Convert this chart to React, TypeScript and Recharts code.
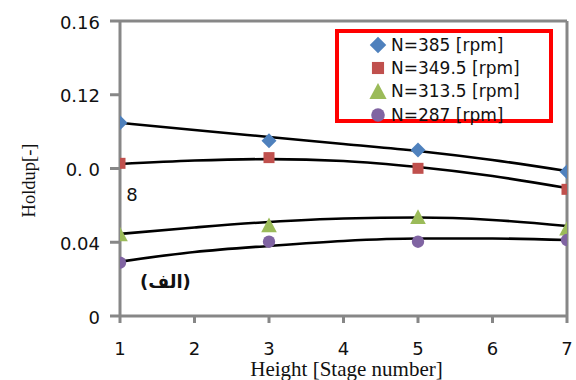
import React from 'react';
import { ComposedChart, Line, XAxis, YAxis, Legend, ReferenceLine } from 'recharts';

const stages = [1, 3, 5, 7];
const holdup385 = [0.1048, 0.0951, 0.09, 0.0783];
const holdup3495 = [0.0828, 0.0859, 0.0801, 0.0687];
const holdup3135 = [0.0445, 0.0494, 0.0539, 0.0476];
const holdup287 = [0.0289, 0.0403, 0.0403, 0.0412];

// trend lines at every stage
const trendStages = [1, 2, 3, 4, 5, 6, 7];
const trend385 = [0.1048, 0.1009, 0.0971, 0.0933, 0.0895, 0.0846, 0.0786];
const trend3495 = [0.0824, 0.0843, 0.0851, 0.0841, 0.0808, 0.0759, 0.0694];
const trend3135 = [0.0445, 0.048, 0.051, 0.0529, 0.0534, 0.0521, 0.0488];
const trend287 = [0.0295, 0.0347, 0.038, 0.0407, 0.042, 0.042, 0.0412];

const xTicks = [1, 2, 3, 4, 5, 6, 7];
const yTicks = [0, 0.04, 0.08, 0.12, 0.16];

const series = [
  { name: 'N=385 [rpm]', values: holdup385, trend: trend385, color: '#4F81BD', marker: 'diamond' },
  { name: 'N=349.5 [rpm]', values: holdup3495, trend: trend3495, color: '#C0504D', marker: 'square' },
  { name: 'N=313.5 [rpm]', values: holdup3135, trend: trend3135, color: '#9BBB59', marker: 'triangle' },
  { name: 'N=287 [rpm]', values: holdup287, trend: trend287, color: '#8064A2', marker: 'circle' },
];

// one row per stage: measured points only where a stage was measured
const chartData = trendStages.map((x, i) => {
  const row: any = { x };
  series.forEach((s, k) => {
    row['t' + k] = s.trend[i];
    const j = stages.indexOf(x);
    if (j >= 0) row['m' + k] = s.values[j];
  });
  return row;
});

const AXIS = '#878787';
const SANS = '"DejaVu Sans", sans-serif';
const SERIF = '"Liberation Serif", "Times New Roman", serif';

const Marker = ({ kind, cx, cy, fill, scale = 1 }: any) => {
  if (cx == null || cy == null || Number.isNaN(cy)) return null;
  if (kind === 'diamond') {
    const h = 7.5 * scale;
    return <polygon points={`${cx},${cy - h} ${cx + h},${cy} ${cx},${cy + h} ${cx - h},${cy}`} fill={fill} />;
  }
  if (kind === 'square') {
    const h = 5.5 * scale;
    return <rect x={cx - h} y={cy - h} width={2 * h} height={2 * h} fill={fill} />;
  }
  if (kind === 'triangle') {
    const w = 7.8 * scale;
    const h = 7.3 * scale;
    return <polygon points={`${cx},${cy - h} ${cx + w},${cy + h} ${cx - w},${cy + h}`} fill={fill} />;
  }
  return <circle cx={cx} cy={cy} r={6.2 * scale} fill={fill} />;
};

const YTick = ({ x, y, payload }: any) => {
  const v = payload.value;
  const style = { fontFamily: SANS, fontSize: 18, fill: '#111' };
  if (Math.abs(v - 0.08) < 1e-9) {
    return (
      <g>
        <text x={x} y={y} dy="0.42em" textAnchor="end" style={style}>0. 0</text>
        <text x={x + 32} y={y + 26} dy="0.36em" textAnchor="middle" style={style}>8</text>
      </g>
    );
  }
  return (
    <text x={x} y={y} dy="0.42em" textAnchor="end" style={style}>
      {v === 0 ? '0' : v.toFixed(2)}
    </text>
  );
};

const LegendBox = ({ payload }: any) => {
  const names = (payload || []).filter((p: any) => p.type !== 'none').map((p: any) => p.value);
  const shown = series.filter((s) => names.includes(s.name));
  return (
    <div
      style={{
        boxSizing: 'border-box',
        width: 218,
        height: 94,
        border: '4px solid #ff0000',
        paddingLeft: 30,
        fontFamily: SANS,
        fontSize: 17,
        color: '#111',
      }}
    >
      {shown.map((s) => (
        <div key={s.name} style={{ height: 23.3, display: 'flex', alignItems: 'center', whiteSpace: 'nowrap' }}>
          <svg width={18} height={18} style={{ marginRight: 4, flex: 'none' }}>
            <Marker kind={s.marker} cx={9} cy={9} fill={s.color} scale={1.1} />
          </svg>
          <span>{s.name}</span>
        </div>
      ))}
    </div>
  );
};

export default function App() {
  return (
    <div style={{ position: 'absolute', left: 0, top: 0, width: 576, height: 380, background: '#fff' }}>
      <ComposedChart width={576} height={380} data={chartData} margin={{ top: 21, right: 9, left: 0, bottom: 0 }}>
        <XAxis
          dataKey="x"
          type="number"
          domain={[1, 7]}
          ticks={xTicks}
          allowDataOverflow
          height={64}
          axisLine={{ stroke: AXIS, strokeWidth: 3 }}
          tickLine={{ stroke: AXIS, strokeWidth: 3 }}
          tickSize={7}
          tickMargin={19}
          tick={{ fontFamily: SANS, fontSize: 18, fill: '#111' }}
          label={{
            value: 'Height [Stage number]',
            position: 'center',
            dx: 3,
            dy: 21,
            style: { fontFamily: SERIF, fontSize: 21, fill: '#111' },
          }}
        />
        <YAxis
          type="number"
          domain={[0, 0.16]}
          ticks={yTicks}
          allowDataOverflow
          width={120}
          axisLine={{ stroke: AXIS, strokeWidth: 3 }}
          tickLine={{ stroke: AXIS, strokeWidth: 3 }}
          tickSize={10}
          tickMargin={10}
          tick={<YTick />}
          label={{
            value: 'Holdup[-]',
            position: 'center',
            angle: -90,
            dx: -32,
            dy: 12,
            style: { fontFamily: SERIF, fontSize: 18.5, fill: '#111' },
          }}
        />
        <ReferenceLine y={0.16} stroke={AXIS} strokeWidth={3} />
        <ReferenceLine x={7} stroke={AXIS} strokeWidth={3} />
        {series.map((s, k) => (
          <Line
            key={'m' + k}
            name={s.name}
            dataKey={'m' + k}
            stroke="none"
            fill={s.color}
            connectNulls={false}
            dot={(props: any) => (
              <Marker key={'d' + k + '-' + props.index} kind={s.marker} cx={props.cx} cy={props.cy} fill={s.color} />
            )}
            activeDot={false}
            isAnimationActive={false}
          />
        ))}
        {series.map((s, k) => (
          <Line
            key={'t' + k}
            dataKey={'t' + k}
            type="monotone"
            stroke="#000"
            strokeWidth={2.6}
            dot={false}
            activeDot={false}
            legendType="none"
            isAnimationActive={false}
          />
        ))}
        <Legend
          layout="vertical"
          align="center"
          verticalAlign="middle"
          content={<LegendBox />}
          wrapperStyle={{ left: 335, top: 29, width: 218, height: 94 }}
        />
      </ComposedChart>
      <div
        style={{
          position: 'absolute',
          left: 140,
          top: 271,
          fontFamily: SANS,
          fontWeight: 'bold',
          fontSize: 18,
          color: '#111',
          whiteSpace: 'nowrap',
        }}
      >
        (الف)
      </div>
    </div>
  );
}
